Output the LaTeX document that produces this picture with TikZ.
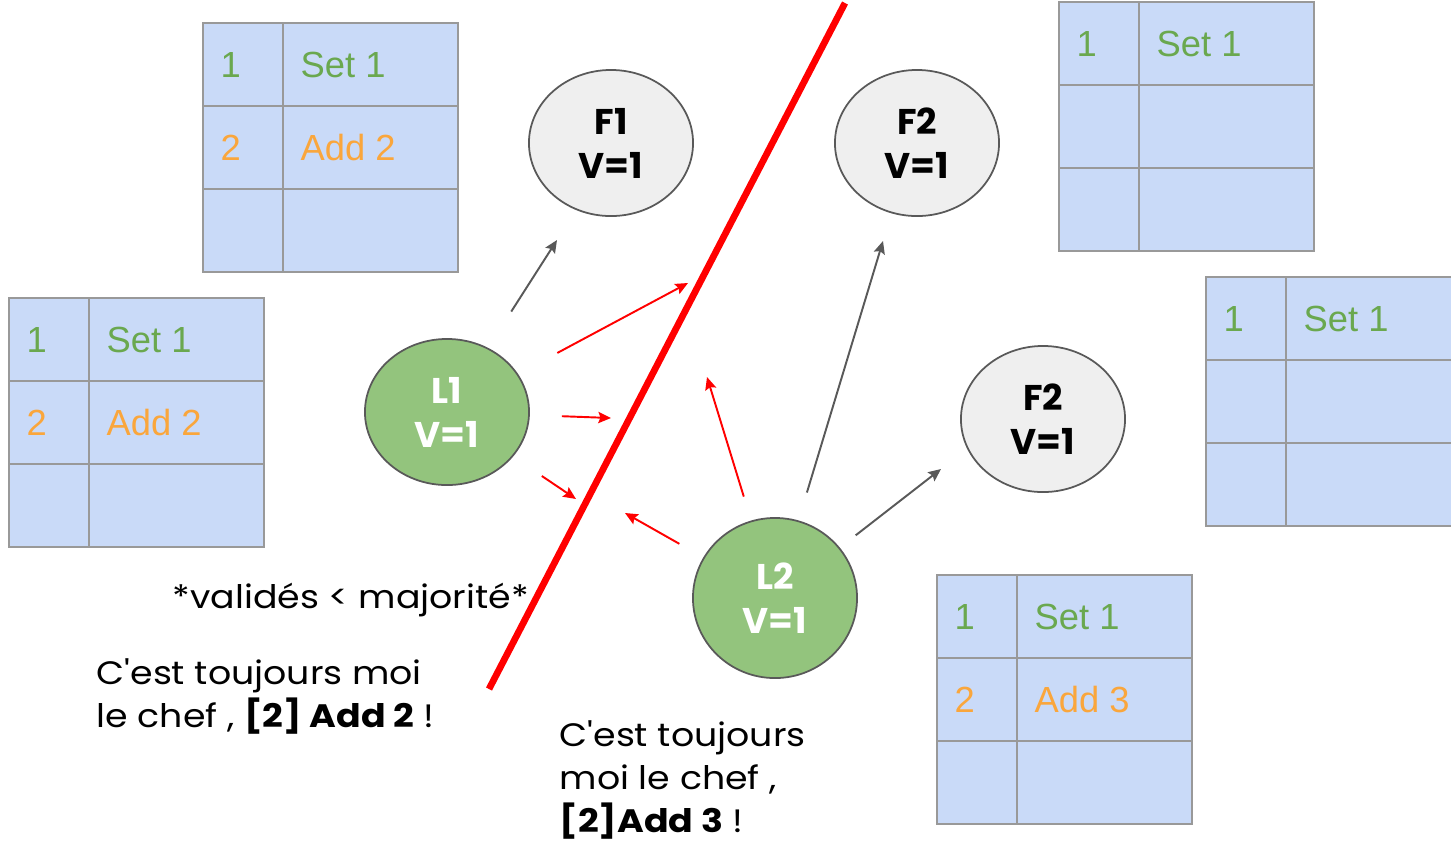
\documentclass[tikz,border=0pt]{standalone}
\usepackage{fontspec}
\setmainfont{Poppins}
\newfontfamily\remarkfont{Poppins}[FakeStretch=1.12]
\newfontfamily\nodefont{Poppins}
\newfontfamily\cellfont{Liberation Sans}
\usetikzlibrary{shapes.geometric,arrows.meta}
\definecolor{nodegreen}{HTML}{93C47D}
\definecolor{nodegray}{HTML}{EFEFEF}
\definecolor{nodeborder}{HTML}{595959}
\definecolor{cellblue}{HTML}{C9DAF8}
\definecolor{cellgrid}{HTML}{999999}
\definecolor{setgreen}{HTML}{6AA84F}
\definecolor{addorange}{RGB}{250,166,60}
\definecolor{splitred}{RGB}{255,0,0}

\tikzset{
    server/.style={ellipse, draw=nodeborder, line width=0.5pt, inner sep=0pt,
        minimum width=1.64cm, minimum height=1.46cm, align=center,
        font=\nodefont\fontsize{10.16pt}{12.5pt}\selectfont\bfseries},
    leader/.style={server, fill=nodegreen, text=white},
    follower/.style={server, fill=nodegray, text=black},
    celltxt/.style={anchor=base west, inner sep=0pt,
        font=\cellfont\fontsize{10.33pt}{12pt}\selectfont},
    remark/.style={anchor=base west, inner sep=0pt, align=left,
        font=\remarkfont\fontsize{9.22pt}{12.23pt}\selectfont},
    grayarrow/.style={draw=nodeborder, line width=0.55pt,
        -{Stealth[length=3.6pt, width=3.2pt, inset=0.6pt]}},
    redarrow/.style={draw=splitred, line width=0.55pt,
        -{Stealth[length=3.6pt, width=3.2pt, inset=0.6pt]}},
    splitline/.style={draw=splitred, line width=1.9pt}
}

% log table: name, x, y (top left corner), second index, second entry
\newcommand{\logtable}[5]{%
    \begin{scope}[shift={(#2,#3)}]
        \fill[cellblue] (0,0) rectangle (255,249);
        \draw[cellgrid, line width=0.6pt] (0,0) rectangle (255,249)
            (80,0) -- (80,249) (0,83) -- (255,83) (0,166) -- (255,166);
        \node[celltxt, setgreen] (#1-i1) at (17,54) {1};
        \node[celltxt, setgreen] (#1-c1) at (97,54) {Set 1};
        \node[celltxt, addorange] (#1-i2) at (17,137) {#4};
        \node[celltxt, addorange] (#1-c2) at (97,137) {#5};
    \end{scope}}

\begin{document}
\begin{tikzpicture}[x=0.01cm, y=-0.01cm]
    \clip (0,0) rectangle (1451,841);

    % --- logs ---
    \logtable{logA}{203}{23}{2}{Add 2}
    \logtable{logB}{9}{298}{2}{Add 2}
    \logtable{logC}{1059}{2}{}{}
    \logtable{logD}{1206}{277}{}{}
    \logtable{logE}{937}{575}{2}{Add 3}

    % --- partition ---
    \draw[splitline] (845,3) -- (489,689);

    % --- servers ---
    \node[leader] (L1) at (447,412) {L1\\V=1};
    \node[leader, minimum height=1.6cm] (L2) at (775,598) {L2\\V=1};
    \node[follower] (F1) at (611,143) {F1\\V=1};
    \node[follower] (F2a) at (917,143) {F2\\V=1};
    \node[follower] (F2b) at (1043,419) {F2\\V=1};

    % --- messages ---
    \coordinate (toF1) at (557,240);
    \coordinate (cut1) at (688,283);
    \coordinate (cut2) at (611,418);
    \coordinate (cut3) at (576,499);
    \coordinate (cut4) at (625,513);
    \coordinate (cut5) at (707,377);
    \coordinate (toF2a) at (883,241);
    \coordinate (toF2b) at (941,469);

    \draw[grayarrow, shorten <=0.43cm] (L1) -- (toF1);
    \draw[redarrow, shorten <=0.445cm] (L1) -- (cut1);
    \draw[redarrow, shorten <=0.32cm] (L1) -- (cut2);
    \draw[redarrow, shorten <=0.346cm] (L1) -- (cut3);
    \draw[redarrow, shorten <=0.275cm] (L2) -- (cut4);
    \draw[redarrow, shorten <=0.25cm] (L2) -- (cut5);
    \draw[grayarrow, shorten <=0.291cm] (L2) -- (toF2a);
    \draw[grayarrow, shorten <=0.2cm] (L2) -- (toF2b);

    % --- remarks (base = last line) ---
    \node[remark] (quorum) at (172,608) {*validés < majorité*};
    \node[remark] (chefL1) at (96,727) {C'est toujours moi\\le chef , \textbf{[2] Add 2} !};
    \node[remark] (chefL2) at (559,832) {C'est toujours\\moi le chef ,\\\textbf{[2]Add 3} !};
\end{tikzpicture}
\end{document}
